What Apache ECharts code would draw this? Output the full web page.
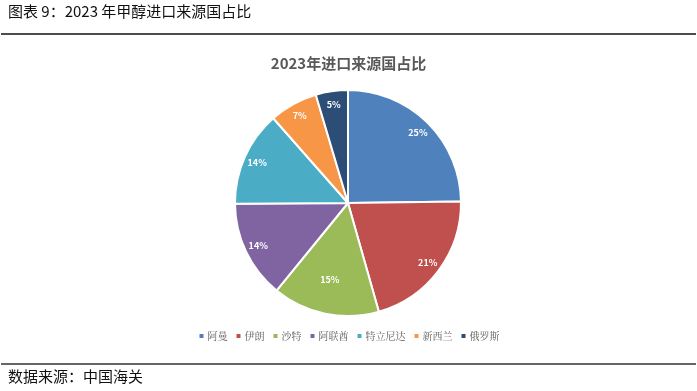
<!DOCTYPE html>
<html><head><meta charset="utf-8">
<script src="https://cdn.jsdelivr.net/npm/echarts@6/dist/echarts.min.js"></script>
<style>html,body{margin:0;padding:0;background:#fff}#c{width:697px;height:391px}</style>
</head><body><div id="c"></div>
<script>
const countries = ['阿曼','伊朗','沙特','阿联酋','特立尼达','新西兰','俄罗斯'];
const shares = [24.8, 20.8, 15.3, 14.0, 13.6, 6.9, 4.6];
const colors = ['#4F81BD','#C0504D','#9BBB59','#8064A2','#4BACC6','#F79646','#2C4D75'];
const headerText = '图表 9：2023 年甲醇进口来源国占比';
const chartTitle = '2023年进口来源国占比';
const sourceText = '数据来源：中国海关';

const data = countries.map((n,i)=>({name:n, value:shares[i], itemStyle:{color:colors[i]}}));
const chart = echarts.init(document.getElementById('c'));
const cjk = '"Noto Sans CJK SC","Noto Sans",sans-serif';
chart.setOption({
  animation:false,
  title:{text:chartTitle,left:'center',top:51,textStyle:{fontFamily:cjk,fontSize:15,fontWeight:'bold',color:'#595959'}},
  legend:{bottom:45,left:'center',itemWidth:6,itemHeight:6,itemGap:7,icon:'rect',
    textStyle:{fontFamily:'"Noto Serif CJK SC","Noto Sans CJK SC",serif',fontSize:10,color:'#595959',padding:[0,0,0,-2]},data:countries},
  graphic:[
    {type:'text',left:8,top:4,style:{text:headerText,font:'15px '+cjk,fill:'#111'}},
    {type:'line',shape:{x1:1,y1:34,x2:696,y2:34},style:{stroke:'#111',lineWidth:1.5}},
    {type:'line',shape:{x1:1,y1:364,x2:696,y2:364},style:{stroke:'#333',lineWidth:1.5}},
    {type:'text',left:8,top:369,style:{text:sourceText,font:'15px '+cjk,fill:'#111'}}
  ],
  series:[
    {type:'pie',center:[348,203],radius:[0,113],startAngle:90,clockwise:true,
     itemStyle:{borderColor:'#fff',borderWidth:2},label:{show:false},labelLine:{show:false},
     emphasis:{disabled:true},data:data},
    {type:'pie',center:[348,203],radius:[80,113],startAngle:90,clockwise:true,silent:true,
     itemStyle:{color:'transparent',borderWidth:0},labelLine:{show:false},
     label:{show:true,position:'inside',color:'#fff',fontWeight:'bold',fontSize:9,fontFamily:cjk,
       formatter:p=>Math.round(p.value)+'%'},
     labelLayout:p=>p.dataIndex===2?{dx:2,dy:-21}:{},
     emphasis:{disabled:true},
     data:countries.map((n,i)=>({name:n,value:shares[i]}))}
  ]
});
</script></body></html>
